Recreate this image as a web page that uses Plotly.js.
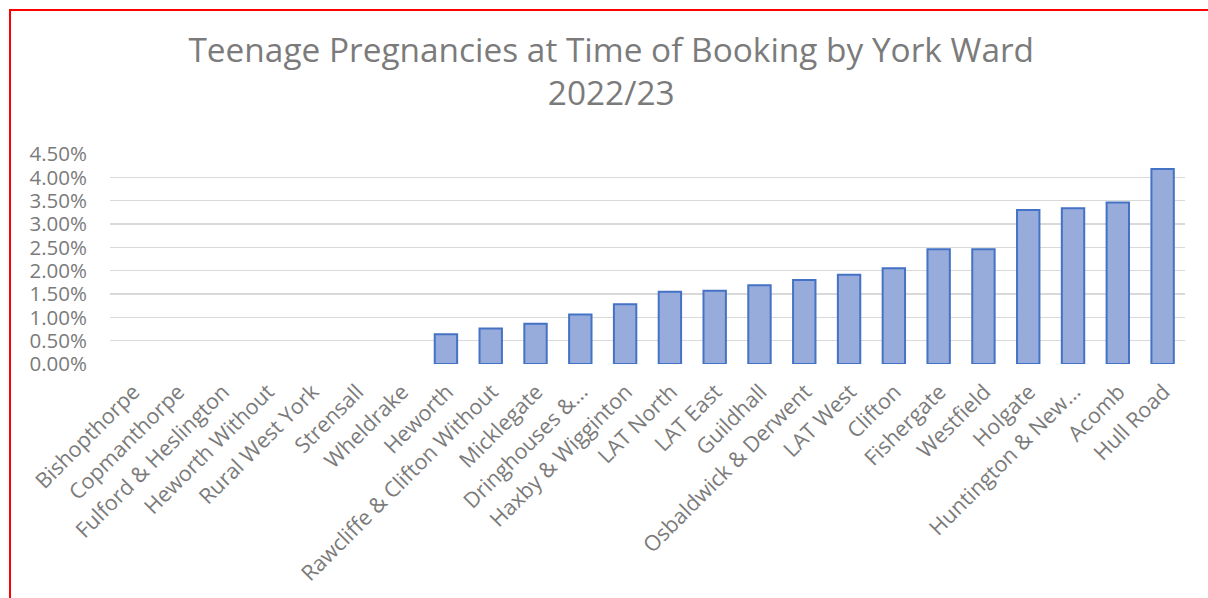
<!DOCTYPE html>
<html>
<head>
<meta charset="utf-8">
<script src="https://cdn.plot.ly/plotly-3.0.1.min.js"></script>
<style>
  html, body { margin: 0; padding: 0; background: #fff; }
  #wrap { position: relative; width: 1208px; height: 598px; overflow: hidden; }
  #chart { width: 1208px; height: 598px; }
  #frame { position: absolute; left: 9px; top: 9px; width: 1400px; height: 800px;
           border-left: 2px solid #ff0000; border-top: 2px solid #ff0000; pointer-events: none; }
</style>
</head>
<body>
<div id="wrap">
  <div id="chart"></div>
  <div id="frame"></div>
</div>
<script>
const wards = [
  "Bishopthorpe", "Copmanthorpe", "Fulford & Heslington", "Heworth Without",
  "Rural West York", "Strensall", "Wheldrake", "Heworth",
  "Rawcliffe & Clifton Without", "Micklegate", "Dringhouses &...", "Haxby & Wigginton",
  "LAT North", "LAT East", "Guildhall", "Osbaldwick & Derwent", "LAT West",
  "Clifton", "Fishergate", "Westfield", "Holgate", "Huntington & New...",
  "Acomb", "Hull Road"
];
const rates = [
  0, 0, 0, 0,
  0, 0, 0, 0.0064,
  0.0076, 0.0086, 0.0106, 0.0128,
  0.0155, 0.0157, 0.0169, 0.0180, 0.0191,
  0.0205, 0.0246, 0.0246, 0.0330, 0.0334,
  0.0346, 0.0418
];
const yTicks = [0, 0.005, 0.01, 0.015, 0.02, 0.025, 0.03, 0.035, 0.04, 0.045];
const chartTitle = "Teenage Pregnancies at Time of Booking by York Ward<br>2022/23";

const grey = "#7b7b7b";
const trace = {
  type: "bar",
  x: wards,
  y: rates,
  width: 0.5,
  marker: {
    color: "#98acdc",
    line: { color: "#4472c4", width: rates.map(v => (v > 0 ? 2 : 0)) }
  },
  hoverinfo: "x+y"
};

const layout = {
  width: 1208, height: 598,
  paper_bgcolor: "#ffffff", plot_bgcolor: "#ffffff",
  margin: { l: 110, r: 23, t: 154, b: 234 },
  font: { family: "Open Sans, sans-serif", color: grey },
  title: {
    text: chartTitle,
    font: { size: 33.4, color: grey, family: "Open Sans, sans-serif" },
    x: 0.506, xanchor: "center",
    y: 0.897, yanchor: "top", yref: "container"
  },
  showlegend: false,
  xaxis: {
    type: "category",
    tickangle: -45,
    tickfont: { size: 21.5, color: grey },
    ticklabelstandoff: 10,
    ticklabelshift: 1,
    showgrid: false,
    showline: false,
    ticks: "",
    zeroline: false,
    automargin: false
  },
  yaxis: {
    range: [0, 0.045],
    tickvals: yTicks,
    tickformat: ".2%",
    tickfont: { size: 20.5, color: grey },
    showgrid: true,
    gridcolor: "#d9d9d9",
    gridwidth: 1.5,
    zeroline: false,
    showline: false,
    ticks: "",
    ticklabelstandoff: 22,
    automargin: false
  }
};

Plotly.newPlot("chart", [trace], layout, { displayModeBar: false, staticPlot: true });
</script>
</body>
</html>
